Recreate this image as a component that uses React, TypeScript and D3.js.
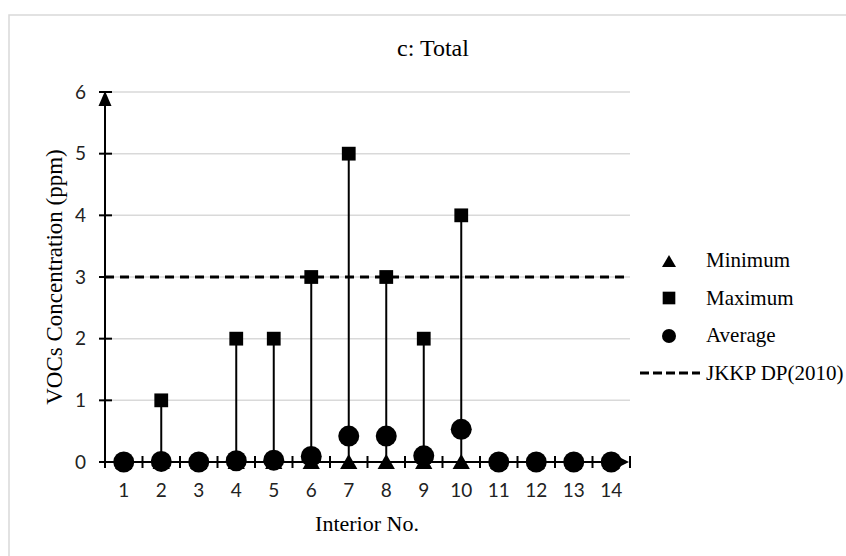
import React from "react"
import { scaleBand, scaleLinear, symbol, symbolTriangle, symbolSquare } from "d3"

// data
const interiors = ["1", "2", "3", "4", "5", "6", "7", "8", "9", "10", "11", "12", "13", "14"]
const minimumVals = [0, 0, 0, 0, 0, 0, 0, 0, 0, 0, 0, 0, 0, 0]
const maximumVals = [0, 1, 0, 2, 2, 3, 5, 3, 2, 4, 0, 0, 0, 0]
const averageVals = [0, 0.01, 0, 0.02, 0.03, 0.09, 0.42, 0.42, 0.1, 0.53, 0, 0, 0, 0]
const yTicks = [0, 1, 2, 3, 4, 5, 6]
const limitValue = 3
const legendItems = ["Minimum", "Maximum", "Average", "JKKP DP(2010)"]

const serif = "'Liberation Serif', 'Times New Roman', serif"
const sans = "Lato, 'Open Sans', sans-serif"

const App = () => {
  const width = 846
  const height = 556
  const plot = { left: 105, right: 630, top: 92, bottom: 462 }

  const xScale = scaleBand<string>().domain(interiors).range([plot.left, plot.right]).padding(0)
  const yScale = scaleLinear().domain([0, 6]).range([plot.bottom, plot.top])
  const cx = (c: string) => (xScale(c) ?? 0) + xScale.bandwidth() / 2

  const tri = symbol(symbolTriangle, 130)()
  const sq = symbol(symbolSquare, 190)()
  const legTri = symbol(symbolTriangle, 85)()
  const legSq = symbol(symbolSquare, 160)()

  const boundaries = interiors.map((c) => xScale(c) ?? 0).concat([plot.right])

  return (
    <svg width={width} height={height} style={{ position: "absolute", left: 0, top: 0 }}>
      <rect x={0} y={0} width={width} height={height} fill="#fff" />
      <rect x={9} y={15} width={900} height={700} fill="none" stroke="#d9d9d9" strokeWidth={1.5} />

      {/* title */}
      <text x={433} y={56} textAnchor="middle" fontFamily={serif} fontSize={24} fill="#000">
        c: Total
      </text>

      {/* gridlines */}
      {yTicks.slice(1).map((t) => (
        <line key={t} x1={plot.left} x2={plot.right} y1={yScale(t)} y2={yScale(t)} stroke="#d9d9d9" strokeWidth={1.5} />
      ))}

      {/* limit line */}
      <line
        x1={plot.left}
        x2={plot.right}
        y1={yScale(limitValue)}
        y2={yScale(limitValue)}
        stroke="#000"
        strokeWidth={3}
        strokeDasharray="9,6"
      />

      {/* high-low stems */}
      {interiors.map((c, i) => (
        <line key={c} x1={cx(c)} x2={cx(c)} y1={yScale(minimumVals[i])} y2={yScale(maximumVals[i])} stroke="#000" strokeWidth={2} />
      ))}

      {/* y axis */}
      <line x1={plot.left} x2={plot.left} y1={plot.bottom} y2={plot.top + 8} stroke="#000" strokeWidth={2} />
      <path d={`M${plot.left},${plot.top - 1} L${plot.left - 6.5},${plot.top + 14} L${plot.left + 6.5},${plot.top + 14} Z`} fill="#000" />
      {yTicks.map((t) => (
        <g key={t}>
          <line x1={plot.left - 6} x2={plot.left + 7} y1={yScale(t)} y2={yScale(t)} stroke="#000" strokeWidth={2} />
          <text x={86} y={yScale(t)} dy="0.35em" textAnchor="end" fontFamily={sans} fontSize={19} fill="#222">
            {t}
          </text>
        </g>
      ))}

      {/* x axis */}
      <line x1={plot.left} x2={plot.right - 8} y1={plot.bottom} y2={plot.bottom} stroke="#000" strokeWidth={2} />
      <path d={`M${plot.right - 1},${plot.bottom} L${plot.right - 13},${plot.bottom - 6} L${plot.right - 13},${plot.bottom + 6} Z`} fill="#000" />
      {boundaries.map((b, i) => (
        <line key={i} x1={b} x2={b} y1={plot.bottom - 6} y2={plot.bottom + 6} stroke="#000" strokeWidth={2} />
      ))}
      {interiors.map((c) => (
        <text key={c} x={cx(c)} y={497} textAnchor="middle" fontFamily={sans} fontSize={19} fill="#222">
          {c}
        </text>
      ))}

      {/* markers */}
      {interiors.map((c, i) => (
        <path key={c} d={tri} transform={`translate(${cx(c)},${yScale(minimumVals[i]) + 2})`} fill="#000" />
      ))}
      {interiors.map((c, i) => (
        <path key={c} d={sq} transform={`translate(${cx(c)},${yScale(maximumVals[i])})`} fill="#000" />
      ))}
      {interiors.map((c, i) => (
        <circle key={c} cx={cx(c)} cy={yScale(averageVals[i])} r={10.5} fill="#000" />
      ))}

      {/* axis titles */}
      <text x={367} y={531} textAnchor="middle" fontFamily={serif} fontSize={22} fill="#000">
        Interior No.
      </text>
      <text
        transform={`translate(62,${(plot.top + plot.bottom) / 2}) rotate(-90)`}
        textAnchor="middle"
        fontFamily={serif}
        fontSize={23}
        fill="#000"
      >
        VOCs Concentration (ppm)
      </text>

      {/* legend */}
      <path d={legTri} transform="translate(669,263)" fill="#000" />
      <path d={legSq} transform="translate(669,298)" fill="#000" />
      <circle cx={669} cy={336} r={7} fill="#000" />
      <line x1={640} x2={700} y1={373} y2={373} stroke="#000" strokeWidth={3} strokeDasharray="9,4" />
      {legendItems.map((name, i) => (
        <text key={name} x={706} y={267 + i * 37.5} fontFamily={serif} fontSize={21} fill="#000">
          {name}
        </text>
      ))}
    </svg>
  )
}

export default App
